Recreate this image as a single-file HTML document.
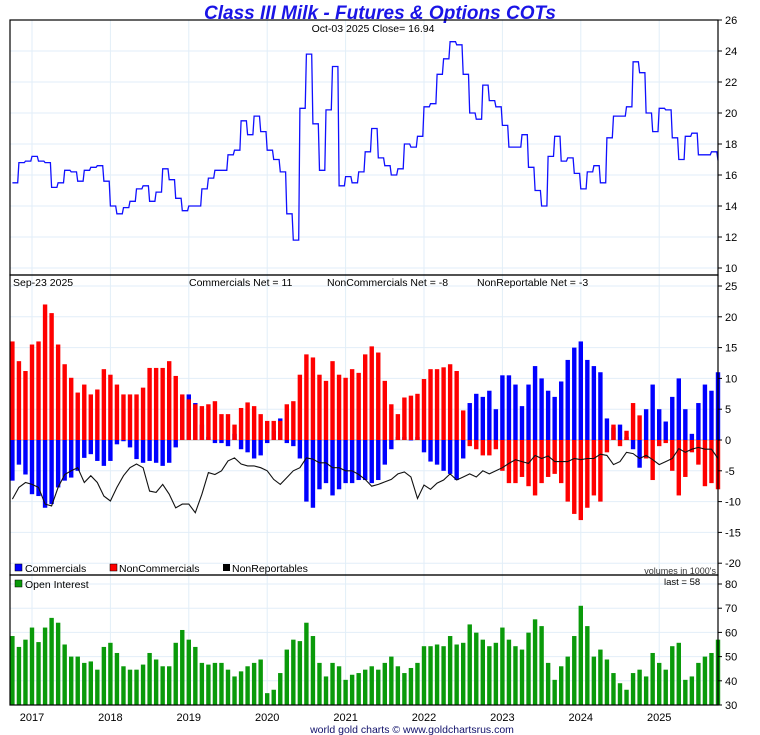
<!DOCTYPE html>
<html><head><meta charset="utf-8"><style>
html,body{margin:0;padding:0;background:#fff;}
svg{display:block;font-family:"Liberation Sans",sans-serif;}
</style></head><body>
<svg id="chart" width="760" height="735" viewBox="0 0 760 735" xmlns="http://www.w3.org/2000/svg">
<text x="380" y="19" text-anchor="middle" font-size="19" font-weight="bold" font-style="italic" fill="#1a14e6">Class III Milk - Futures &amp; Options COTs</text>
<g id="grid"></g>
<g id="marks"></g>
<g id="frames" fill="none" stroke="#000" stroke-width="1.2">
<rect x="10" y="20" width="708" height="255"/>
<rect x="10" y="275" width="708" height="300"/>
<rect x="10" y="575" width="708" height="130"/>
</g>
<text x="373" y="32" text-anchor="middle" font-size="10.5" fill="#000">Oct-03  2025   Close= 16.94</text>
<text x="13" y="286" font-size="10.5">Sep-23  2025</text>
<text x="189" y="286" font-size="10.5">Commercials Net = 11</text>
<text x="327" y="286" font-size="10.5">NonCommercials Net = -8</text>
<text x="477" y="286" font-size="10.5">NonReportable Net = -3</text>
<g font-size="10.5">
<rect x="15" y="564" width="7" height="7" fill="#0000ff" stroke="#000" stroke-width="0.5"/>
<text x="25" y="572">Commercials</text>
<rect x="110" y="564" width="7" height="7" fill="#ff0000" stroke="#000" stroke-width="0.5"/>
<text x="119" y="572">NonCommercials</text>
<rect x="223" y="564" width="7" height="7" fill="#000"/>
<text x="232" y="572">NonReportables</text>
</g>
<text x="716" y="574" text-anchor="end" font-size="9" fill="#333">volumes in 1000's</text>
<rect x="15" y="580" width="7" height="7" fill="#0a9a0a" stroke="#000" stroke-width="0.5"/>
<text x="25" y="588" font-size="10.5">Open Interest</text>
<text x="664" y="585" font-size="9.5">last = 58</text>
<text x="412" y="733" text-anchor="middle" font-size="10.5" fill="#10106a">world gold charts © www.goldchartsrus.com</text>
<g id="axes" font-size="11"></g>
</svg>
<script>
const years = ["2017","2018","2019","2020","2021","2022","2023","2024","2025"];
const priceTicks = [10,12,14,16,18,20,22,24,26];
const cotTicks = [-20,-15,-10,-5,0,5,10,15,20,25];
const oiTicks = [30,40,50,60,70,80];
// monthly samples, Oct 2016 .. Oct 2025
const price = [15.5,16.8,16.9,17.2,16.9,16.8,15.2,15.5,16.3,16.2,15.6,16.3,16.5,16.6,15.6,14.0,13.5,13.9,14.3,15.1,15.3,14.3,14.9,16.4,15.7,14.5,13.7,14.0,14.0,15.1,15.8,16.3,16.3,17.3,17.6,19.5,18.6,19.8,18.8,17.6,17.0,16.2,13.5,11.8,20.3,23.8,19.3,16.3,20.2,23.0,15.3,15.9,15.5,16.2,17.5,19.0,17.1,16.6,16.0,16.4,18.0,17.8,18.5,20.4,20.6,22.5,23.5,24.6,24.4,22.5,20.0,19.6,21.8,20.8,20.4,19.2,17.8,17.8,18.6,16.5,15.0,14.0,17.2,18.5,16.9,17.1,16.1,15.1,16.2,16.6,15.5,18.4,19.8,19.8,20.4,23.3,22.6,20.0,18.8,20.3,20.2,18.4,17.0,18.5,18.7,17.3,17.3,17.5,16.94];
const commercials = [-6.6,-4.0,-5.6,-8.8,-9.1,-11.0,-10.4,-7.7,-6.6,-6.1,-5.0,-2.9,-2.3,-3.4,-4.2,-3.4,-0.7,-0.2,-1.2,-3.1,-3.7,-3.4,-3.7,-4.2,-3.7,-1.2,7.0,7.4,6.0,2.5,0.5,-0.5,-0.5,-1.0,1.0,-1.5,-2.0,-3.0,-2.5,-0.5,1.5,3.5,-0.5,-1.0,-3.0,-10.0,-11.0,-8.0,-7.0,-9.0,-8.0,-7.0,-7.0,-6.5,-6.5,-7.0,-6.5,-4.0,-1.5,0.5,0.5,0.0,0.5,-2.0,-3.5,-4.0,-5.0,-5.5,-6.5,-3.0,6.0,7.5,7.0,8.0,5.0,10.5,10.5,9.0,5.5,9.0,12.0,10.0,8.0,7.0,9.5,13.0,15.0,16.0,13.0,12.0,11.0,3.5,2.0,2.5,0.5,-1.5,-4.5,5.0,9.0,5.0,3.0,7.0,10.0,5.0,1.0,6.0,9.0,8.0,11.0];
const nonCommercials = [16.0,12.8,11.2,15.5,16.0,22.0,20.6,15.5,12.3,10.1,7.7,9.0,7.4,8.2,11.5,10.6,9.0,7.4,7.4,7.4,8.5,11.7,11.7,11.7,12.8,10.4,7.4,6.6,5.8,5.5,5.8,6.3,4.2,4.2,2.5,5.2,6.1,5.5,4.2,3.1,3.1,3.1,5.8,6.3,10.6,13.9,13.4,10.6,9.6,12.8,10.6,10.1,11.5,10.9,13.9,15.2,14.2,9.6,5.8,4.2,6.9,7.2,7.5,9.9,11.5,11.5,11.8,12.3,11.2,4.8,-1.0,-1.5,-2.5,-2.5,-1.5,-5.0,-7.0,-7.0,-6.0,-7.5,-9.0,-7.0,-6.0,-5.5,-7.0,-10.0,-12.0,-13.0,-11.0,-9.0,-10.0,-2.0,2.5,-1.0,1.5,6.0,4.0,-3.0,-6.5,-1.0,-0.5,-5.0,-9.0,-6.0,-2.0,-4.0,-7.5,-7.0,-8.0];
const nonReportables = [-9.6,-7.7,-6.9,-7.2,-7.7,-10.4,-10.7,-7.7,-5.6,-5.0,-4.5,-6.9,-5.8,-6.9,-9.1,-9.9,-7.7,-5.8,-4.5,-3.9,-4.5,-8.3,-8.5,-7.2,-8.8,-11.0,-10.4,-10.4,-11.8,-8.8,-5.3,-5.6,-5.0,-3.4,-2.9,-3.9,-4.2,-4.2,-4.5,-5.0,-6.4,-7.2,-6.1,-5.0,-4.5,-2.9,-3.1,-3.7,-3.7,-4.5,-4.5,-5.0,-5.0,-5.6,-6.4,-7.5,-7.2,-6.8,-6.4,-5.5,-5.2,-6.0,-9.5,-7.3,-8.0,-7.0,-6.5,-5.5,-6.5,-6.0,-5.5,-6.0,-5.0,-5.5,-5.0,-4.5,-3.8,-3.2,-3.5,-3.8,-2.5,-3.0,-2.6,-3.5,-3.5,-3.5,-3.0,-3.2,-3.0,-3.0,-2.3,-2.5,-4.0,-3.5,-2.0,-2.2,-3.0,-2.5,-3.2,-4.0,-3.5,-3.0,-1.4,-2.0,-1.5,-1.2,-1.5,-1.5,-3.0];
const openInterest = [58.5,54,57,62,56,62,66,64,55,50,50,47.4,48,44.6,54,55.7,51.5,46,44.6,44.6,46.7,51.5,48.8,46,46,55.7,61,57,54,47.4,46.7,47.4,47.4,44.6,41.8,43.9,46,47.4,48.8,34.9,36.3,43.2,52.9,57,56.4,64,58.5,47.4,41.8,47.4,46,40.4,42.5,43.2,44.6,46,44.6,47.4,50,46,43.2,45.3,47.4,54.3,54.3,55,54.3,58.5,55,55.7,63.3,59.9,57,54.3,55.7,62,57,54.3,52.9,59.9,65.4,62.6,47.4,40.4,46,50,58.5,71,62.6,50,52.9,48.8,43.2,39,36.3,43.2,44.6,41.8,51.5,47.4,44.6,54.3,55.7,40.4,41.8,47.4,50,51.5,57];

const NS = "http://www.w3.org/2000/svg";
const L = 10, R = 718;
const startYear = 2016.75;
const xYear = y => 32 + (y - 2017) * 78.4;
const xIdx = i => xYear(startYear + i / 12);
const yPrice = v => 268 - (v - 10) * 15.5;
const yCot = v => 440 - v * 6.16;
const yOi = v => 705 - (v - 30) * 2.42;
function mk(tag, attrs, parent) {
  const e = document.createElementNS(NS, tag);
  for (const k in attrs) e.setAttribute(k, attrs[k]);
  parent.appendChild(e);
  return e;
}
const grid = document.getElementById('grid');
const marks = document.getElementById('marks');
const axes = document.getElementById('axes');
years.forEach(y => {
  const x = xYear(+y);
  const g = mk('line', {x1:x, x2:x, y1:20, y2:705, stroke:'#e2eef8', 'stroke-width':1}, grid);
  
  
  const t = mk('text', {x:x, y:721, 'text-anchor':'middle', 'font-size':11}, axes);
  t.textContent = y;
  
  
});
function hTicks(ticks, yf, name) {
  ticks.forEach(v => {
    const y = yf(v);
    const g = mk('line', {x1:L, x2:R, y1:y, y2:y, stroke:'#e2eef8', 'stroke-width':1}, grid);
    
    
    mk('line', {x1:R, x2:R+4, y1:y, y2:y, stroke:'#000'}, axes);
    const t = mk('text', {x:725, y:y + 4, 'font-size':11}, axes);
    t.textContent = v;
    
    
  });
}
hTicks(priceTicks, yPrice, 'price');
hTicks(cotTicks, yCot, 'cot');
hTicks(oiTicks, yOi, 'oi');
const z = mk('line', {x1:L, x2:R, y1:yCot(0), y2:yCot(0), stroke:'#bbb', 'stroke-width':1}, grid);


// price line (step style, like the reference)
let pp = '';
price.forEach((v, i) => {
  const x = xIdx(i), y = yPrice(v);
  if (i > 0) pp += ' ' + (x - 1.2).toFixed(1) + ',' + yPrice(price[i-1]).toFixed(1);
  pp += ' ' + x.toFixed(1) + ',' + y.toFixed(1);
});
const pl = mk('polyline', {points:pp.trim(), fill:'none', stroke:'#1010ff', 'stroke-width':1.3}, marks);


const bw = 4.4;
function bar(v, i, yf, base, color, name) {
  const x = xIdx(i) - bw / 2;
  const y0 = yf(base), y1 = yf(v);
  const r = mk('rect', {x:x, y:Math.min(y0, y1), width:bw, height:Math.max(0.5, Math.abs(y1 - y0)), fill:color}, marks);
  
  
}
commercials.forEach((v, i) => bar(v, i, yCot, 0, '#0000ff', 'commercials-bar'));
nonCommercials.forEach((v, i) => bar(v, i, yCot, 0, '#ff0000', 'noncommercials-bar'));
const np = nonReportables.map((v, i) => xIdx(i).toFixed(1) + ',' + yCot(v).toFixed(1)).join(' ');
const nl = mk('polyline', {points:np, fill:'none', stroke:'#111', 'stroke-width':1.1}, marks);


openInterest.forEach((v, i) => bar(v, i, yOi, 30, '#0a9a0a', 'open-interest-bar'));
</script>
</body></html>
